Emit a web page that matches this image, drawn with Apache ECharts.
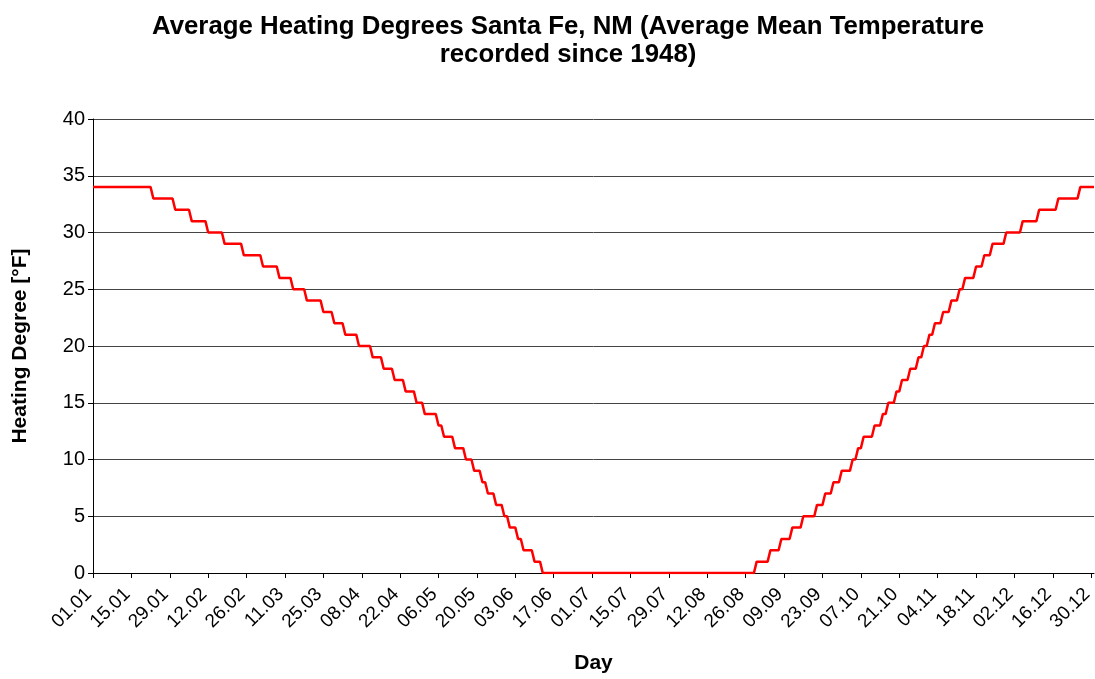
<!DOCTYPE html>
<html>
<head>
<meta charset="utf-8">
<title>Average Heating Degrees Santa Fe, NM</title>
<script src="https://cdn.jsdelivr.net/npm/echarts@6/dist/echarts.min.js"></script>
<style>
  html, body { margin: 0; padding: 0; background: #ffffff; }
  #chart { width: 1095px; height: 679px; }
</style>
</head>
<body>
<div id="chart"></div>
<script>
// Daily average heating degrees (°F), one array per month (leap-year calendar)
const jan = [34,34,34,34,34,34,34,34,34,34,34,34,34,34,34,34,34,34,34,34,34,34,33,33,33,33,33,33,33,33,32];
const feb = [32,32,32,32,32,31,31,31,31,31,31,30,30,30,30,30,30,29,29,29,29,29,29,29,28,28,28,28,28];
const mar = [28,28,27,27,27,27,27,27,26,26,26,26,26,25,25,25,25,25,24,24,24,24,24,24,23,23,23,23,22,22,22];
const apr = [22,21,21,21,21,21,20,20,20,20,20,19,19,19,19,18,18,18,18,17,17,17,17,16,16,16,16,15,15,15];
const may = [14,14,14,14,14,13,13,12,12,12,12,11,11,11,11,10,10,10,9,9,9,8,8,7,7,7,6,6,6,5,5];
const jun = [4,4,4,3,3,2,2,2,2,1,1,1,0,0,0,0,0,0,0,0,0,0,0,0,0,0,0,0,0,0];
const jul = [0,0,0,0,0,0,0,0,0,0,0,0,0,0,0,0,0,0,0,0,0,0,0,0,0,0,0,0,0,0,0];
const aug = [0,0,0,0,0,0,0,0,0,0,0,0,0,0,0,0,0,0,0,0,0,0,0,0,0,0,0,0,0,1,1];
const sep = [1,1,1,2,2,2,2,3,3,3,3,4,4,4,4,5,5,5,5,5,6,6,6,7,7,7,8,8,8,9];
const oct = [9,9,9,10,10,11,11,12,12,12,12,13,13,13,14,14,15,15,15,16,16,17,17,17,18,18,18,19,19,20,20];
const nov = [21,21,22,22,22,23,23,23,24,24,24,25,25,26,26,26,26,27,27,27,28,28,28,29,29,29,29,29,30,30];
const dec = [30,30,30,30,31,31,31,31,31,31,32,32,32,32,32,32,32,33,33,33,33,33,33,33,33,34,34,34,34,34,34];

const months = [jan, feb, mar, apr, may, jun, jul, aug, sep, oct, nov, dec];

// Category labels "DD.MM" for every day of the year
const days = [];
const heating = [];
months.forEach((vals, m) => {
  vals.forEach((v, d) => {
    days.push(String(d + 1).padStart(2, '0') + '.' + String(m + 1).padStart(2, '0'));
    heating.push(v);
  });
});

const FONT = '"Liberation Sans", Arial, sans-serif';

const chart = echarts.init(document.getElementById('chart'), null, { renderer: 'canvas' });
chart.setOption({
  backgroundColor: '#ffffff',
  animation: false,
  title: {
    text: 'Average Heating Degrees Santa Fe, NM (Average Mean Temperature\nrecorded since 1948)',
    left: 563,
    top: 8,
    textAlign: 'center',
    textStyle: {
      fontFamily: FONT,
      fontSize: 25.8,
      fontWeight: 'bold',
      color: '#000000',
      lineHeight: 28,
      align: 'center'
    }
  },
  grid: {
    left: 93,
    right: 1,
    top: 119,
    bottom: 106,
    containLabel: false,
    outerBoundsMode: 'none'
  },
  xAxis: {
    type: 'category',
    data: days,
    boundaryGap: false,
    name: 'Day',
    nameLocation: 'middle',
    nameGap: 80,
    nameTextStyle: { fontFamily: FONT, fontSize: 21, fontWeight: 'bold', color: '#000000' },
    axisLine: { show: true, lineStyle: { color: '#000000', width: 1 } },
    axisTick: { show: true, interval: 13, length: 5, lineStyle: { color: '#000000' } },
    axisLabel: {
      interval: 13,
      rotate: 45,
      margin: 14,
      padding: [0, 6, 0, 0],
      fontFamily: FONT,
      fontSize: 19,
      color: '#000000'
    },
    splitLine: { show: false }
  },
  yAxis: {
    type: 'value',
    min: 0,
    max: 40,
    interval: 5,
    name: 'Heating Degree [°F]',
    nameLocation: 'middle',
    nameRotate: 90,
    nameGap: 62,
    nameTextStyle: { fontFamily: FONT, fontSize: 21, fontWeight: 'bold', color: '#000000' },
    axisLine: { show: true, lineStyle: { color: '#000000', width: 1 } },
    axisTick: { show: true, length: 5, lineStyle: { color: '#000000' } },
    axisLabel: { margin: 8, fontFamily: FONT, fontSize: 20, color: '#000000' },
    splitLine: { show: true, lineStyle: { color: '#444444', width: 1 } }
  },
  series: [{
    type: 'line',
    data: heating,
    showSymbol: false,
    symbol: 'none',
    lineStyle: { color: '#ff0000', width: 2.5 },
    itemStyle: { color: '#ff0000' }
  }]
});
</script>
</body>
</html>
